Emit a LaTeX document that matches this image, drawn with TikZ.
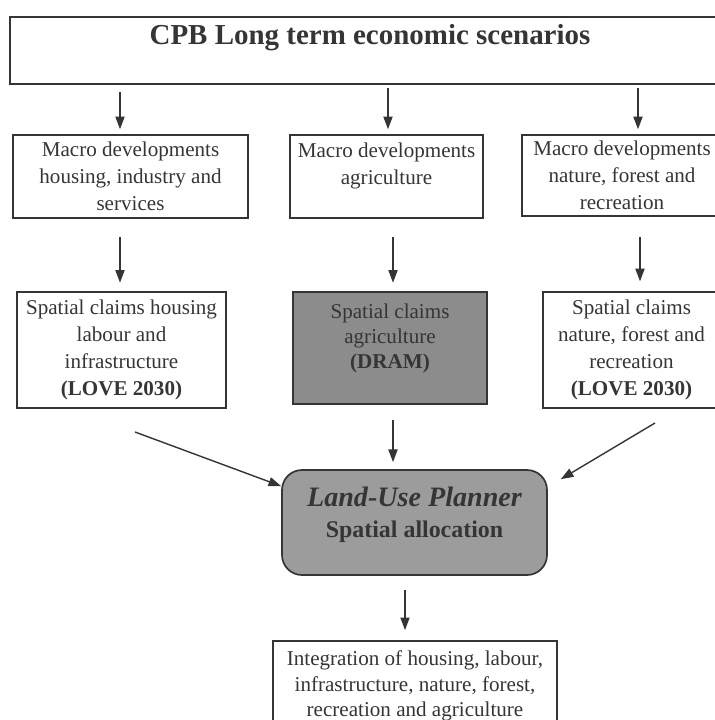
\documentclass[tikz,border=0pt]{standalone}
\usepackage{fontspec}
\setmainfont{Liberation Serif}
\usetikzlibrary{positioning, arrows.meta, calc}

\definecolor{ink}{HTML}{353535}
\definecolor{darkfill}{HTML}{8C8C8C}
\definecolor{planfill}{HTML}{9C9C9C}

\begin{document}
\begin{tikzpicture}[
    box/.style={draw=ink, line width=1.2pt, rectangle, align=center, text=ink, inner sep=2pt,
                font=\fontsize{15}{19.2}\selectfont},
    arr/.style={draw=ink, line width=1pt, -{Triangle[length=9pt, width=6.5pt]}}]
    \useasboundingbox (0,0) rectangle (17.875,-18);
   
    \node[box, minimum width=18cm, minimum height=1.675cm] (cpb) at (9.25,-1.2625) {};
    \node[text=ink, font=\fontsize{20.6}{24}\selectfont\bfseries] (cpbtitle) at (9.25,-0.94) {CPB Long term economic scenarios};
 
   
    \node[box, minimum width=5.875cm, minimum height=2.075cm] (mdh) at (3.2625,-4.4125)
        {Macro developments\\housing, industry and\\services};
    \node[box, minimum width=4.825cm, minimum height=2.075cm, text depth=0.66cm] (mda) at (9.6625,-4.4125)
        {Macro developments\\agriculture};
    \node[box, minimum width=5cm, minimum height=2.025cm] (mdn) at (15.55,-4.3875)
        {Macro developments\\nature, forest and\\recreation};
 
   
    \node[box, minimum width=5.225cm, minimum height=2.9cm] (sch) at (3.0375,-8.75)
        {Spatial claims housing\\labour and\\infrastructure\\\textbf{(LOVE 2030)}};
    \node[box, fill=darkfill, minimum width=4.85cm, minimum height=2.8cm, text depth=0.6cm,
          font=\fontsize{15}{17.8}\selectfont] (sca) at (9.75,-8.7)
        {Spatial claims\\agriculture\\\textbf{(DRAM)}};
    \node[box, minimum width=4.425cm, minimum height=2.9cm] (scn) at (15.7875,-8.75)
        {Spatial claims\\nature, forest and\\recreation\\\textbf{(LOVE 2030)}};
 
   
    \node[box, fill=planfill, rounded corners=0.5cm, minimum width=6.625cm, minimum height=2.625cm, text depth=0.5cm] (lup) at (10.3625,-13.0625)
        {{\fontsize{20}{24}\selectfont\bfseries\itshape Land-Use Planner}\\[3pt]{\fontsize{17}{20}\selectfont\bfseries Spatial allocation}};
 
   
    \node[box, minimum width=7.1cm, minimum height=2.25cm, anchor=north, font=\fontsize{15}{18}\selectfont] (intg) at (10.375,-16)
        {Integration of housing, labour,\\infrastructure, nature, forest,\\recreation and agriculture};
 
   
    \coordinate (a1) at (3.0,-2.3);
    \coordinate (a2) at (9.7,-2.2);
    \coordinate (a3) at (15.95,-2.2);
    \draw[arr, shorten >=3.5pt] (a1) -- (a1 |- mdh.north);
    \draw[arr, shorten >=3.5pt] (a2) -- (a2 |- mda.north);
    \draw[arr, shorten >=3.5pt] (a3) -- (a3 |- mdn.north);
 
   
    \coordinate (b1) at (3.0,-5.925);
    \coordinate (b2) at (9.825,-5.925);
    \coordinate (b3) at (16.0,-5.925);
    \draw[arr, shorten >=6pt] (b1) -- (b1 |- sch.north);
    \draw[arr, shorten >=6pt] (b2) -- (b2 |- sca.north);
    \draw[arr, shorten >=7pt] (b3) -- (b3 |- scn.north);
 
   
    \coordinate (c1) at (3.375,-10.8);
    \coordinate (c2) at (9.825,-10.5);
    \coordinate (c3) at (16.375,-10.575);
    \draw[arr] (c1) -- ([yshift=-0.425cm]lup.north west);
    \draw[arr, shorten >=5pt] (c2) -- (c2 |- lup.north);
    \draw[arr] (c3) -- ([shift={(0.325cm,-0.25cm)}]lup.north east);
 
   
    \coordinate (d1) at (10.125,-14.75);
    \draw[arr, shorten >=7pt] (d1) -- (d1 |- intg.north);
\end{tikzpicture}
\end{document}
